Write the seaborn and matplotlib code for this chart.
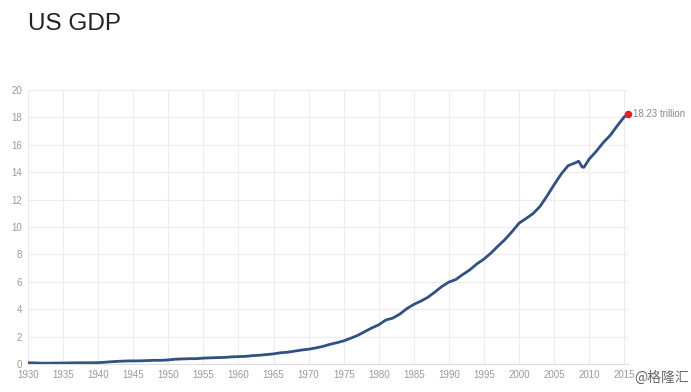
import matplotlib
matplotlib.use('Agg')
import matplotlib.pyplot as plt
import seaborn as sns
import pandas as pd

# 연도별 미국 GDP (조 달러), 그림에서 읽은 값
years = [1930, 1931, 1932, 1933, 1934, 1935, 1936, 1937, 1938, 1939,
         1940, 1941, 1942, 1943, 1944, 1945, 1946, 1947, 1948, 1949,
         1950, 1951, 1952, 1953, 1954, 1955, 1956, 1957, 1958, 1959,
         1960, 1961, 1962, 1963, 1964, 1965, 1966, 1967, 1968, 1969,
         1970, 1971, 1972, 1973, 1974, 1975, 1976, 1977, 1978, 1979,
         1980, 1981, 1982, 1983, 1984, 1985, 1986, 1987, 1988, 1989,
         1990, 1991, 1992, 1993, 1994, 1995, 1996, 1997, 1998, 1999,
         2000, 2001, 2002, 2003, 2004, 2005, 2006, 2007, 2008, 2008.5,
         2009, 2009.25, 2010, 2011, 2012, 2013, 2014, 2015, 2015.5]
gdp = [0.09, 0.08, 0.06, 0.06, 0.07, 0.07, 0.08, 0.09, 0.09, 0.09,
       0.10, 0.13, 0.17, 0.20, 0.22, 0.23, 0.23, 0.25, 0.27, 0.27,
       0.30, 0.35, 0.37, 0.39, 0.39, 0.43, 0.45, 0.47, 0.48, 0.52,
       0.54, 0.56, 0.61, 0.64, 0.69, 0.74, 0.82, 0.86, 0.94, 1.02,
       1.08, 1.17, 1.28, 1.43, 1.55, 1.69, 1.88, 2.09, 2.36, 2.63,
       2.86, 3.21, 3.35, 3.64, 4.04, 4.35, 4.59, 4.87, 5.25, 5.66,
       5.98, 6.17, 6.54, 6.88, 7.31, 7.66, 8.10, 8.61, 9.09, 9.66,
       10.28, 10.62, 10.98, 11.51, 12.27, 13.09, 13.86, 14.48, 14.68, 14.80,
       14.38, 14.36, 14.96, 15.52, 16.16, 16.69, 17.39, 18.04, 18.23]
last_label = '18.23 trillion'
x_ticks = list(range(1930, 2016, 5))
y_ticks = list(range(0, 21, 2))

df = pd.DataFrame({'year': years, 'gdp': gdp})

sns.set_style('white')
plt.rcParams['font.family'] = ['Liberation Sans', 'Noto Sans CJK SC']

fig = plt.figure(figsize=(6.91, 3.92), dpi=100)
ax = fig.add_axes([0.0405, 0.0714, 0.868, 0.699])

sns.lineplot(data=df, x='year', y='gdp', ax=ax, color='#2f5183', linewidth=2.0)
ax.scatter([years[-1]], [gdp[-1]], color='#e3202c', s=20, zorder=5, clip_on=False)
ax.text(years[-1] + 0.8, gdp[-1], last_label, va='center', ha='left',
        fontsize=7, color='#8a8a8a')

ax.set_xlim(1930, 2015.5)
ax.set_ylim(0, 20)
ax.set_xticks(x_ticks)
ax.set_yticks(y_ticks)
ax.grid(True, color='#ececec', linewidth=0.8)
for s in ['top', 'right', 'left']:
    ax.spines[s].set_visible(False)
ax.spines['bottom'].set_color('#dddddd')
ax.tick_params(axis='both', length=0, labelsize=7, labelcolor='#999999', pad=4)
ax.set_xlabel('')
ax.set_ylabel('')

fig.text(0.0405, 0.938, 'US GDP', fontsize=17.5, color='#222222', va='center', ha='left')
fig.text(0.997, 0.035, '@格隆汇', fontsize=10, color='#666666', ha='right', va='center',
         family=['Noto Sans CJK SC', 'Liberation Sans'])

fig.savefig('out.png', dpi=100)
